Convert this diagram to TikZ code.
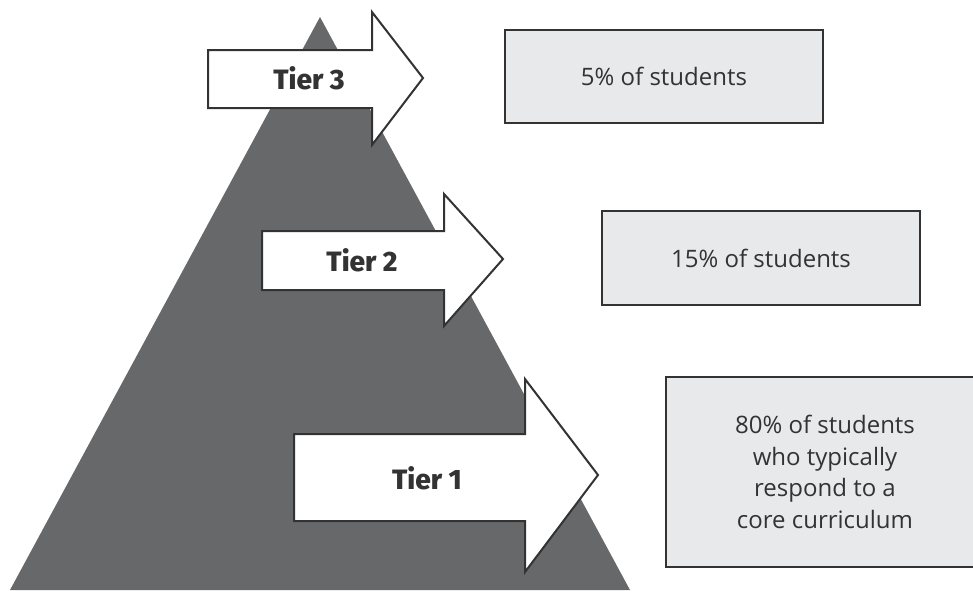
\documentclass[tikz,border=0pt]{standalone}
\usepackage{fontspec}
\setmainfont{Open Sans}
\newfontfamily\tierfont{Fira Sans ExtraBold}
\usetikzlibrary{positioning}
\definecolor{pyramidgray}{HTML}{67686A}
\definecolor{boxgray}{HTML}{E8E9EB}
\definecolor{inkgray}{HTML}{333333}

\begin{document}
\begin{tikzpicture}[x=1pt, y=-1pt]
    \tikzset{tierarrow/.style={draw=inkgray, fill=white, line width=2pt, line join=miter}}
    \tikzset{tierlabel/.style={anchor=base, text=inkgray, font=\tierfont\fontsize{28}{32}\selectfont}}
    \tikzset{share/.style={rectangle, draw=inkgray, fill=boxgray, line width=2pt, minimum width=318pt, align=center, text=inkgray, font=\fontsize{24}{31.5}\selectfont}}
    \useasboundingbox (0,0) rectangle (973,590);

    % the pyramid
    \fill[pyramidgray] (10,590) -- (320,17) -- (630,590) -- cycle;

    % tier arrows
    \draw[tierarrow] (208,50) -- (372,50) -- (372,12) -- (423,78) -- (372,145) -- (372,108) -- (208,108) -- cycle;
    \draw[tierarrow] (262,231) -- (444,231) -- (444,194) -- (503,259) -- (444,326) -- (444,290) -- (262,290) -- cycle;
    \draw[tierarrow] (294,434) -- (525,434) -- (525,379) -- (598,475) -- (525,572) -- (525,521) -- (294,521) -- cycle;
    \node[tierlabel] (tier3) at (309,89) {Tier 3};
    \node[tierlabel] (tier2) at (362,271) {Tier 2};
    \node[tierlabel] (tier1) at (427,489) {Tier 1};

    % share of students
    \node[share, minimum height=93pt] (s3) at (664,76.5) {5\% of students};
    \node[share, minimum height=94pt] (s2) at (761,258) {15\% of students};
    \node[share, minimum height=190pt] (s1) at (825,472) {80\% of students\\who typically\\respond to a\\core curriculum};
\end{tikzpicture}
\end{document}
